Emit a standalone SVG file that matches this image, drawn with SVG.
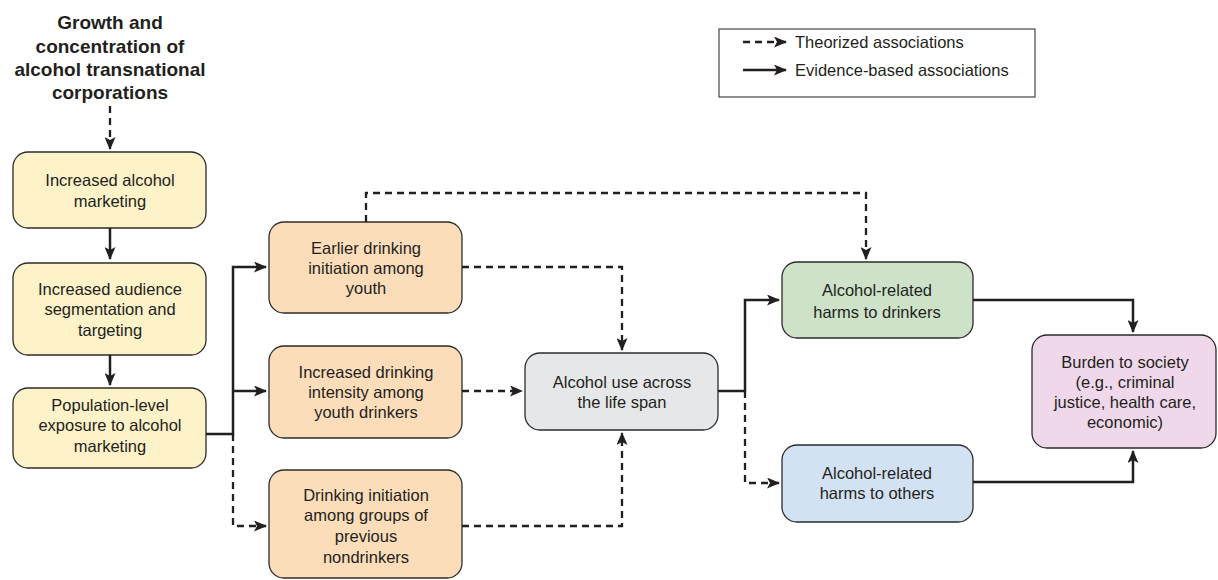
<svg xmlns="http://www.w3.org/2000/svg" width="1218" height="580" viewBox="0 0 1218 580">
<style>
.box{stroke:#2b2b2b;stroke-width:1.3}
.y{fill:#FEF2C9}.o{fill:#FCDDBA}.g{fill:#E6E7E8}.gr{fill:#CEE2CA}.b{fill:#D3E2F3}.p{fill:#F0D8EB}
text{font-family:"Liberation Sans",Arial,sans-serif;font-size:16.5px;fill:#231f20;text-anchor:middle}
.t{font-weight:bold;font-size:19px}
.lg{text-anchor:start;font-size:16.5px}
.s{fill:none;stroke:#231f20;stroke-width:2.5}
.d{fill:none;stroke:#231f20;stroke-width:2.3;stroke-dasharray:7 5}
</style>
<defs>
<marker id="ah" viewBox="0 0 13 11" refX="12" refY="5.5" markerWidth="13" markerHeight="11" markerUnits="userSpaceOnUse" orient="auto">
<path d="M0,0 L13,5.5 L0,11 L3,5.5 Z" fill="#231f20"/>
</marker>
</defs>

<g id="title">
<text class="t" x="110" y="29">Growth and</text>
<text class="t" x="110" y="53">concentration of</text>
<text class="t" x="110" y="76">alcohol transnational</text>
<text class="t" x="110" y="99">corporations</text>
</g>

<g id="legend">
<rect x="719" y="29" width="316" height="68" fill="#fff" stroke="#444" stroke-width="1.2"/>
<line class="d" x1="743" y1="42" x2="786" y2="42" stroke-dasharray="6 4" marker-end="url(#ah)"/>
<line class="s" x1="743" y1="70" x2="786" y2="70" marker-end="url(#ah)"/>
<text class="lg" x="795" y="48">Theorized associations</text>
<text class="lg" x="795" y="76">Evidence-based associations</text>
</g>

<g id="n1"><rect class="box y" x="13" y="152" width="193" height="76" rx="15"/>
<text x="110" y="186">Increased alcohol</text><text x="110" y="207">marketing</text></g>
<g id="n2"><rect class="box y" x="13" y="263" width="193" height="92" rx="15"/>
<text x="110" y="295">Increased audience</text><text x="110" y="315">segmentation and</text><text x="110" y="336">targeting</text></g>
<g id="n3"><rect class="box y" x="13" y="388" width="193" height="80" rx="15"/>
<text x="110" y="411">Population-level</text><text x="110" y="431">exposure to alcohol</text><text x="110" y="452">marketing</text></g>

<g id="n4"><rect class="box o" x="269" y="222" width="193" height="91" rx="15"/>
<text x="366" y="254">Earlier drinking</text><text x="366" y="274">initiation among</text><text x="366" y="294">youth</text></g>
<g id="n5"><rect class="box o" x="269" y="346" width="193" height="92" rx="15"/>
<text x="366" y="378">Increased drinking</text><text x="366" y="398">intensity among</text><text x="366" y="418">youth drinkers</text></g>
<g id="n6"><rect class="box o" x="269" y="470" width="193" height="108" rx="15"/>
<text x="366" y="501">Drinking initiation</text><text x="366" y="521">among groups of</text><text x="366" y="542">previous</text><text x="366" y="563">nondrinkers</text></g>

<g id="n7"><rect class="box g" x="525" y="353" width="193" height="77" rx="15"/>
<text x="622" y="388">Alcohol use across</text><text x="622" y="408">the life span</text></g>

<g id="n8"><rect class="box gr" x="782" y="262" width="191" height="76" rx="15"/>
<text x="877" y="296">Alcohol-related</text><text x="877" y="318">harms to drinkers</text></g>
<g id="n9"><rect class="box b" x="782" y="445" width="191" height="77" rx="15"/>
<text x="877" y="479">Alcohol-related</text><text x="877" y="499">harms to others</text></g>

<g id="n10"><rect class="box p" x="1032" y="335" width="184" height="113" rx="15"/>
<text x="1125" y="368">Burden to society</text><text x="1125" y="388">(e.g., criminal</text><text x="1125" y="408">justice, health care,</text><text x="1125" y="428">economic)</text></g>

<g id="connectors">
<path class="d" d="M110,106 V149" marker-end="url(#ah)"/>
<path class="s" d="M110,228 V259" marker-end="url(#ah)"/>
<path class="s" d="M110,355 V385" marker-end="url(#ah)"/>
<path class="s" d="M206,434 H233 V267 H266" marker-end="url(#ah)"/>
<path class="s" d="M233,391 H266" marker-end="url(#ah)"/>
<path class="d" d="M233,434 V526 H266" marker-end="url(#ah)"/>
<path class="d" d="M366,222 V193 H866 V259" marker-end="url(#ah)"/>
<path class="d" d="M462,267 H622 V350" marker-end="url(#ah)"/>
<path class="d" d="M462,391 H522" marker-end="url(#ah)"/>
<path class="d" d="M462,526 H622 V433" marker-end="url(#ah)"/>
<path class="s" d="M718,391 H745 V300 H779" marker-end="url(#ah)"/>
<path class="d" d="M745,391 V483 H779" marker-end="url(#ah)"/>
<path class="s" d="M973,300 H1133 V332" marker-end="url(#ah)"/>
<path class="s" d="M973,482 H1133 V451" marker-end="url(#ah)"/>
</g>
</svg>
